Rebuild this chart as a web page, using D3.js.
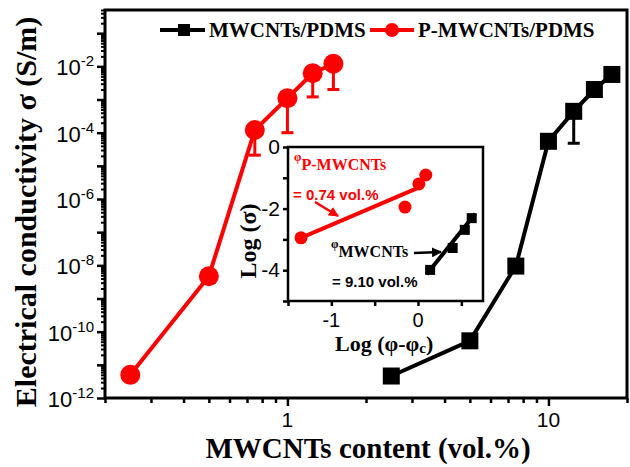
<!DOCTYPE html>
<html>
<head>
<meta charset="utf-8">
<script src="https://cdn.jsdelivr.net/npm/d3@7/dist/d3.min.js"></script>
<style>
  body { margin: 0; background: #fff; }
  svg { display: block; }
</style>
</head>
<body>
<div class="chart"></div>
<script>
// main plot data
const pX = [0.25, 0.5, 0.75, 1.0, 1.25, 1.5];
const pY = [5e-12, 4.7e-9, 1.2e-4, 1.1e-3, 6.2e-3, 1.2e-2];
const pErrLo = [null, null, 2.1e-5, 1.0e-4, 1.2e-3, 2.0e-3];

const mX = [2.5, 5, 7.5, 10, 12.5, 15, 17.5];
const mY = [4.6e-12, 5.3e-11, 9.5e-9, 5.5e-5, 4.4e-4, 2.0e-3, 5.7e-3];
const mErrLo = [null, null, null, null, 4.8e-5, null, null];

// inset data
const insPX = [-1.35, -0.15, 0.01, 0.09];
const insPY = [-2.95, -1.95, -1.2, -0.91];
const insPFitX = [-1.35, 0.02];
const insPFitY = [-2.95, -1.3];

const insMX = [0.14, 0.40, 0.54, 0.62];
const insMY = [-3.99, -3.28, -2.69, -2.31];
const insMFitX = [0.1, 0.66];
const insMFitY = [-4.13, -2.17];

const yLabelExp = [-12, -10, -8, -6, -4, -2];
const xLabelVals = [1, 10];
const insYTicks = [0, -2, -4];
const insXTicks = [-1, 0];

const width = 630, height = 467;
const red = '#ff0000';
const serif = '"Liberation Serif", "Times New Roman", serif';
const sans = '"Liberation Sans", Arial, sans-serif';

const svg = d3.select('.chart').append('svg')
  .attr('width', width).attr('height', height);

// scales
const x = d3.scaleLog().domain([0.2, 20]).range([105, 627]);
const y = d3.scaleLog().domain([1e-12, 0.5]).range([398, 10]);

// minor tick values for log axes
const xMinor = [];
for (let e = -1; e <= 1; e++) for (let k = 1; k <= 9; k++) {
  const v = k * Math.pow(10, e);
  if (v >= 0.2 && v <= 20 && k != 1) xMinor.push(v);
}
const yMajor = [], yMinor = [];
for (let e = -12; e <= -1; e++) {
  yMajor.push(Math.pow(10, e));
  for (let k = 2; k <= 9; k++) {
    const v = k * Math.pow(10, e);
    if (v <= 0.5) yMinor.push(v);
  }
}

// axes (ticks outward)
svg.append('g').attr('transform', 'translate(0,398)')
  .call(d3.axisBottom(x).tickValues(xMinor).tickSize(5).tickSizeOuter(0).tickFormat(''))
  .call(g => g.select('.domain').remove())
  .selectAll('line').attr('stroke-width', 2.5);
svg.append('g').attr('transform', 'translate(0,398)')
  .call(d3.axisBottom(x).tickValues(xLabelVals).tickSize(8).tickSizeOuter(0).tickFormat(''))
  .call(g => g.select('.domain').remove())
  .selectAll('line').attr('stroke-width', 2.5);
svg.selectAll('text.xlab').data(xLabelVals).enter().append('text')
  .attr('class', 'xlab').attr('x', d => x(d)).attr('y', 427)
  .attr('text-anchor', 'middle').attr('font-family', sans).attr('font-size', 21)
  .text(d => d);

svg.append('g').attr('transform', 'translate(105,0)')
  .call(d3.axisLeft(y).tickValues(yMinor).tickSize(4).tickSizeOuter(0).tickFormat(''))
  .call(g => g.select('.domain').remove())
  .selectAll('line').attr('stroke-width', 2);
svg.append('g').attr('transform', 'translate(105,0)')
  .call(d3.axisLeft(y).tickValues(yMajor).tickSize(8).tickSizeOuter(0).tickFormat(''))
  .call(g => g.select('.domain').remove())
  .selectAll('line').attr('stroke-width', 2.5);

// y labels with superscripts
const yl = svg.selectAll('text.ylab').data(yLabelExp).enter().append('text')
  .attr('class', 'ylab')
  .attr('x', 94).attr('y', d => y(Math.pow(10, d)) + 9)
  .attr('text-anchor', 'end').attr('font-family', sans).attr('font-size', 22);
yl.append('tspan').text('10');
yl.append('tspan').attr('dy', -9).attr('font-size', 15).text(d => d);

// frame
svg.append('rect').attr('x', 105).attr('y', 10).attr('width', 522).attr('height', 388)
  .attr('fill', 'none').attr('stroke', '#000').attr('stroke-width', 3);

// error bars
function errBars(xs, ys, lo, color) {
  const data = xs.map((d, i) => ({x: d, y: ys[i], lo: lo[i]})).filter(d => d.lo != null);
  svg.selectAll(null).data(data).enter().append('line')
    .attr('x1', d => x(d.x)).attr('x2', d => x(d.x))
    .attr('y1', d => y(d.y)).attr('y2', d => y(d.lo))
    .attr('stroke', color).attr('stroke-width', 3);
  svg.selectAll(null).data(data).enter().append('line')
    .attr('x1', d => x(d.x) - 6).attr('x2', d => x(d.x) + 6)
    .attr('y1', d => y(d.lo)).attr('y2', d => y(d.lo))
    .attr('stroke', color).attr('stroke-width', 3);
}
errBars(pX, pY, pErrLo, red);
errBars(mX, mY, mErrLo, '#000');

// lines
const line = d3.line().x(d => x(d[0])).y(d => y(d[1]));
svg.append('path').datum(pX.map((d, i) => [d, pY[i]])).attr('d', line)
  .attr('fill', 'none').attr('stroke', red).attr('stroke-width', 4);
svg.append('path').datum(mX.map((d, i) => [d, mY[i]])).attr('d', line)
  .attr('fill', 'none').attr('stroke', '#000').attr('stroke-width', 4);

// markers
svg.selectAll('circle.p').data(pX).enter().append('circle')
  .attr('cx', d => x(d)).attr('cy', (d, i) => y(pY[i])).attr('r', 10).attr('fill', red);
svg.selectAll('rect.m').data(mX).enter().append('rect')
  .attr('x', d => x(d) - 8.5).attr('y', (d, i) => y(mY[i]) - 8.5)
  .attr('width', 17).attr('height', 17).attr('fill', '#000');

// legend
const leg = svg.append('g').attr('font-family', serif).attr('font-weight', 'bold').attr('font-size', 21);
leg.append('line').attr('x1', 160).attr('x2', 205).attr('y1', 30).attr('y2', 30).attr('stroke', '#000').attr('stroke-width', 4);
leg.append('rect').attr('x', 178).attr('y', 24).attr('width', 12).attr('height', 12).attr('fill', '#000');
leg.append('text').attr('x', 209).attr('y', 37).text('MWCNTs/PDMS');
leg.append('line').attr('x1', 370).attr('x2', 414).attr('y1', 30).attr('y2', 30).attr('stroke', red).attr('stroke-width', 4);
leg.append('circle').attr('cx', 392).attr('cy', 30).attr('r', 7).attr('fill', red);
leg.append('text').attr('x', 418).attr('y', 37).text('P-MWCNTs/PDMS');

// axis titles
svg.append('text').attr('transform', 'translate(36,212) rotate(-90)')
  .attr('text-anchor', 'middle').attr('font-family', serif).attr('font-weight', 'bold')
  .attr('font-size', 30).text('Electrical conductivity σ (S/m)');
svg.append('text').attr('x', 368).attr('y', 458)
  .attr('text-anchor', 'middle').attr('font-family', serif).attr('font-weight', 'bold')
  .attr('font-size', 29).text('MWCNTs content (vol.%)');

// ---------- inset ----------
const ix = d3.scaleLinear().domain([-1.5, 0.75]).range([288, 483]);
const iy = d3.scaleLinear().domain([-5, 0]).range([301, 147]);

svg.append('rect').attr('x', 288).attr('y', 147).attr('width', 195).attr('height', 154)
  .attr('fill', '#fff');

svg.append('g').attr('transform', 'translate(0,301)')
  .call(d3.axisBottom(ix).tickValues([-1.5, -1, -0.5, 0, 0.5]).tickSize(5).tickSizeOuter(0).tickFormat(''))
  .call(g => g.select('.domain').remove())
  .selectAll('line').attr('stroke-width', 2.5);
svg.selectAll('text.ixl').data(insXTicks).enter().append('text')
  .attr('x', d => ix(d)).attr('y', 327).attr('text-anchor', 'middle')
  .attr('font-family', sans).attr('font-size', 20).text(d => d == 0 ? '0' : '-' + Math.abs(d));

svg.append('g').attr('transform', 'translate(288,0)')
  .call(d3.axisLeft(iy).tickValues([0, -1, -2, -3, -4, -5]).tickSize(5).tickSizeOuter(0).tickFormat(''))
  .call(g => g.select('.domain').remove())
  .selectAll('line').attr('stroke-width', 2.5);
svg.selectAll('text.iyl').data(insYTicks).enter().append('text')
  .attr('x', 280).attr('y', d => iy(d) + 7).attr('text-anchor', 'end')
  .attr('font-family', sans).attr('font-size', 21).text(d => d == 0 ? '0' : '-' + Math.abs(d));

svg.append('rect').attr('x', 288).attr('y', 147).attr('width', 195).attr('height', 154)
  .attr('fill', 'none').attr('stroke', '#000').attr('stroke-width', 2.5);

// fit lines and points
const iline = d3.line().x(d => ix(d[0])).y(d => iy(d[1]));
svg.append('path').datum(insPFitX.map((d, i) => [d, insPFitY[i]])).attr('d', iline)
  .attr('stroke', red).attr('stroke-width', 4).attr('fill', 'none');
svg.append('path').datum(insMFitX.map((d, i) => [d, insMFitY[i]])).attr('d', iline)
  .attr('stroke', '#000').attr('stroke-width', 4).attr('fill', 'none');
svg.selectAll('circle.ip').data(insPX).enter().append('circle')
  .attr('cx', d => ix(d)).attr('cy', (d, i) => iy(insPY[i])).attr('r', 6.5).attr('fill', red);
svg.selectAll('rect.im').data(insMX).enter().append('rect')
  .attr('x', d => ix(d) - 5).attr('y', (d, i) => iy(insMY[i]) - 5)
  .attr('width', 10).attr('height', 10).attr('fill', '#000');

// arrows
const defs = svg.append('defs');
[['ar', red], ['ab', '#000']].forEach(([id, c]) => {
  defs.append('marker').attr('id', id).attr('viewBox', '0 0 10 10').attr('refX', 9).attr('refY', 5)
    .attr('markerWidth', 4).attr('markerHeight', 4).attr('orient', 'auto')
    .append('path').attr('d', 'M0,0L10,5L0,10z').attr('fill', c);
});
svg.append('line').attr('x1', 315).attr('y1', 202).attr('x2', 338).attr('y2', 216)
  .attr('stroke', red).attr('stroke-width', 2.5).attr('marker-end', 'url(#ar)');
svg.append('line').attr('x1', 414).attr('y1', 253).attr('x2', 441).attr('y2', 252)
  .attr('stroke', '#000').attr('stroke-width', 2.5).attr('marker-end', 'url(#ab)');

// annotations
const a1 = svg.append('text').attr('x', 294).attr('y', 170).attr('fill', red)
  .attr('font-family', serif).attr('font-weight', 'bold');
a1.append('tspan').attr('font-size', 12).attr('dy', -9).text('φ');
a1.append('tspan').attr('font-size', 16).attr('dy', 9).text('P-MWCNTs');
svg.append('text').attr('x', 293).attr('y', 200).attr('fill', red)
  .attr('font-family', sans).attr('font-weight', 'bold').attr('font-size', 15).text('= 0.74 vol.%');

const a2 = svg.append('text').attr('x', 331).attr('y', 257).attr('fill', '#000')
  .attr('font-family', serif).attr('font-weight', 'bold');
a2.append('tspan').attr('font-size', 12).attr('dy', -9).text('φ');
a2.append('tspan').attr('font-size', 16).attr('dy', 9).text('MWCNTs');
svg.append('text').attr('x', 332).attr('y', 287).attr('fill', '#000')
  .attr('font-family', sans).attr('font-weight', 'bold').attr('font-size', 15).text('= 9.10 vol.%');

// inset axis titles
svg.append('text').attr('transform', 'translate(256,241) rotate(-90)')
  .attr('text-anchor', 'middle').attr('font-family', serif).attr('font-weight', 'bold')
  .attr('font-size', 24).text('Log (σ)');
const xt = svg.append('text').attr('x', 335).attr('y', 351)
  .attr('font-family', serif).attr('font-weight', 'bold').attr('font-size', 22);
xt.append('tspan').text('Log (φ-φ');
xt.append('tspan').attr('font-size', 15).attr('dy', 2).text('c');
xt.append('tspan').attr('dy', -2).text(')');
</script>
</body>
</html>
